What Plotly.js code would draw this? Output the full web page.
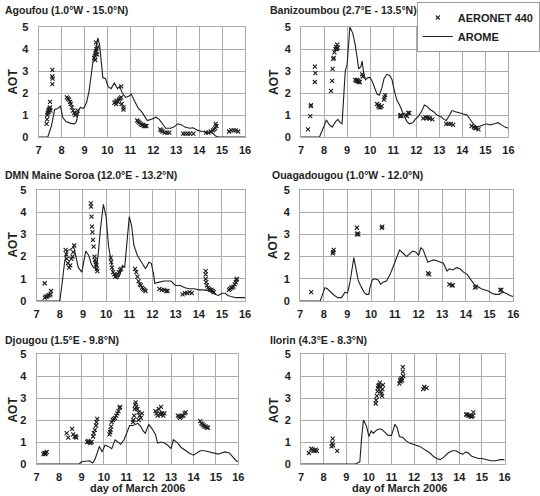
<!DOCTYPE html>
<html>
<head>
<meta charset="utf-8">
<script src="https://cdn.plot.ly/plotly-3.0.1.min.js"></script>
<style>
  html, body { margin: 0; padding: 0; background: #fff; }
  #chart { width: 540px; height: 496px; }
</style>
</head>
<body>
<div id="chart"></div>
<script>
// AOT during the March 2006 dust event: AERONET 440 nm retrievals vs AROME model

// ---- Agoufou ----
const aromeDayAgoufou = [7, 7.4, 7.56, 7.7, 7.84, 7.95, 8.05, 8.19, 8.4, 8.57, 8.65, 8.75, 8.82, 8.93, 8.99, 9.1, 9.2, 9.31, 9.38, 9.45, 9.52, 9.58, 9.66, 9.73, 9.8, 9.92, 10.02, 10.16, 10.3, 10.44, 10.53, 10.65, 10.79, 10.93, 11.04, 11.2, 11.35, 11.49, 11.63, 11.74, 11.9, 12.12, 12.26, 12.4, 12.54, 12.75, 12.89, 13.07, 13.24, 13.38, 13.59, 13.73, 13.94, 14.15, 14.36, 14.57, 14.71, 14.85, 15.2, 15.6, 16];
const aromeAotAgoufou = [0, 0, 0.5, 1.25, 1.3, 1.4, 0.9, 0.7, 0.62, 0.6, 0.7, 1.2, 1.35, 1.3, 1.35, 1.6, 2.1, 3.0, 3.5, 3.8, 4.3, 4.5, 4.2, 3.5, 2.7, 2.65, 2.3, 2.2, 2.45, 2.2, 2.3, 2.0, 1.8, 1.85, 1.95, 1.6, 1.3, 1.15, 0.9, 0.75, 0.8, 0.9, 0.8, 0.6, 0.4, 0.4, 0.45, 0.6, 0.55, 0.45, 0.4, 0.42, 0.3, 0.25, 0.2, 0.2, 0.05, 0, 0, 0, 0];
const aeronetDayAgoufou = [7.35, 7.37, 7.38, 7.4, 7.42, 7.44, 7.46, 7.48, 7.5, 7.52, 7.5, 7.6, 7.6, 7.61, 7.6, 8.23, 8.28, 8.33, 8.37, 8.4, 8.45, 8.5, 8.55, 8.6, 8.65, 8.7, 9.42, 9.45, 9.48, 9.5, 9.52, 9.55, 9.57, 9.5, 9.47, 10.3, 10.35, 10.4, 10.45, 10.5, 10.55, 10.6, 10.62, 10.7, 10.7, 10.6, 10.38, 11.3, 11.35, 11.4, 11.45, 11.5, 11.55, 11.6, 11.65, 11.7, 12.3, 12.35, 12.4, 12.5, 12.6, 12.7, 13.3, 13.4, 13.5, 13.6, 13.75, 14.3, 14.4, 14.5, 14.6, 14.65, 14.7, 14.75, 14.72, 15.3, 15.4, 15.5, 15.6, 15.7];
const aeronetAotAgoufou = [0.6, 0.8, 1.0, 1.1, 1.2, 1.15, 1.25, 1.3, 1.35, 1.2, 1.6, 3.05, 2.75, 2.65, 2.4, 1.8, 1.75, 1.7, 1.6, 1.5, 1.35, 1.2, 1.1, 1.0, 1.05, 1.2, 3.6, 3.7, 3.8, 3.9, 4.0, 3.75, 4.1, 4.3, 3.5, 1.55, 1.6, 1.65, 1.6, 1.7, 1.75, 1.8, 1.5, 1.35, 1.25, 2.3, 1.5, 0.75, 0.7, 0.65, 0.6, 0.55, 0.55, 0.5, 0.5, 0.5, 0.35, 0.3, 0.25, 0.2, 0.2, 0.2, 0.15, 0.15, 0.15, 0.15, 0.15, 0.2, 0.2, 0.25, 0.3, 0.35, 0.4, 0.5, 0.6, 0.25, 0.3, 0.3, 0.3, 0.25];

// ---- Banizoumbou ----
const aromeDayBanizoumbou = [7, 7.8, 8.0, 8.1, 8.2, 8.35, 8.5, 8.6, 8.7, 8.78, 8.85, 8.92, 9.0, 9.05, 9.12, 9.25, 9.35, 9.45, 9.5, 9.6, 9.65, 9.72, 9.8, 9.9, 10.0, 10.1, 10.2, 10.3, 10.4, 10.5, 10.6, 10.72, 10.85, 10.95, 11.05, 11.15, 11.3, 11.4, 11.5, 11.6, 11.7, 11.85, 11.95, 12.1, 12.25, 12.35, 12.45, 12.6, 12.75, 12.9, 13.0, 13.1, 13.2, 13.3, 13.45, 13.55, 13.7, 13.85, 14.0, 14.2, 14.3, 14.4, 14.55, 14.65, 14.75, 14.9, 15.05, 15.2, 15.4, 15.55, 15.7, 15.85, 16];
const aromeAotBanizoumbou = [0, 0, 0.5, 0.78, 0.6, 0.45, 0.7, 0.8, 0.65, 0.6, 1.8, 3.0, 3.3, 3.9, 5.0, 4.7, 4.2, 3.5, 3.1, 3.2, 3.45, 2.9, 2.6, 2.7, 2.7, 2.5, 2.25, 1.95, 1.9, 2.2, 2.65, 2.85, 2.8, 2.6, 2.1, 1.7, 1.4, 1.1, 0.9, 0.7, 0.6, 0.65, 0.8, 0.95, 1.2, 1.45, 1.4, 1.25, 1.15, 1.0, 0.95, 0.9, 0.8, 0.75, 1.0, 1.2, 1.15, 1.1, 1.05, 1.0, 0.85, 0.7, 0.5, 0.45, 0.5, 0.55, 0.6, 0.55, 0.6, 0.65, 0.55, 0.45, 0.4];
const aeronetDayBanizoumbou = [7.3, 7.4, 7.42, 7.43, 7.6, 7.62, 7.6, 8.3, 8.35, 8.37, 8.4, 8.42, 8.45, 8.5, 8.52, 8.55, 8.57, 8.6, 9.35, 9.4, 9.45, 9.5, 9.55, 9.42, 9.48, 9.65, 9.68, 10.3, 10.35, 10.4, 10.45, 10.5, 10.38, 10.6, 10.62, 10.65, 11.3, 11.32, 11.35, 11.55, 11.6, 11.65, 11.7, 12.3, 12.4, 12.5, 12.6, 12.7, 12.45, 12.55, 13.3, 13.4, 13.5, 13.6, 14.4, 14.5, 14.6, 14.7, 14.55];
const aeronetAotBanizoumbou = [0.35, 0.95, 1.4, 1.45, 3.2, 2.9, 2.5, 2.1, 2.55, 3.1, 3.55, 3.6, 3.85, 4.0, 4.1, 4.0, 4.2, 4.05, 2.6, 2.55, 2.55, 2.5, 2.5, 2.6, 2.55, 2.85, 2.75, 1.5, 1.4, 1.35, 1.35, 1.4, 1.45, 1.7, 1.8, 1.9, 0.95, 1.0, 0.95, 1.0, 0.95, 1.1, 1.1, 0.85, 0.9, 0.9, 0.85, 0.8, 0.85, 0.85, 0.6, 0.6, 0.6, 0.55, 0.5, 0.45, 0.4, 0.35, 0.4];

// ---- DMN Maine Soroa ----
const aromeDayMaineSoroa = [7, 8.0, 8.1, 8.2, 8.3, 8.4, 8.5, 8.6, 8.7, 8.8, 8.95, 9.05, 9.12, 9.25, 9.35, 9.45, 9.55, 9.65, 9.75, 9.88, 10.0, 10.1, 10.2, 10.3, 10.4, 10.5, 10.6, 10.7, 10.8, 10.9, 11.0, 11.1, 11.2, 11.35, 11.5, 11.6, 11.7, 11.85, 11.95, 12.05, 12.1, 12.3, 12.5, 12.8, 12.9, 13.0, 13.2, 13.4, 13.6, 13.8, 14.0, 14.2, 14.5, 14.7, 14.85, 15.0, 15.15, 15.25, 15.4, 15.6, 15.8, 16];
const aromeAotMaineSoroa = [0, 0, 0.8, 1.7, 2.25, 2.3, 2.35, 2.45, 2.0, 1.5, 1.3, 1.8, 2.25, 2.05, 1.7, 1.5, 1.45, 2.0, 3.2, 4.35, 3.8, 2.5, 1.8, 1.3, 1.05, 1.0, 1.2, 1.6, 1.5, 2.6, 3.8, 3.4, 2.5, 2.05, 1.8, 1.6, 1.45, 1.75, 1.7, 1.2, 0.8, 0.85, 0.9, 0.9, 0.8, 0.7, 0.7, 0.6, 0.55, 0.55, 0.5, 0.5, 0.45, 0.3, 0.25, 0.35, 0.35, 0.25, 0.2, 0.15, 0.15, 0.15];
const aeronetDayMaineSoroa = [7.35, 7.35, 7.4, 7.45, 7.5, 7.55, 7.6, 7.62, 8.25, 8.28, 8.3, 8.35, 8.4, 8.45, 8.5, 8.55, 8.58, 8.62, 9.34, 9.35, 9.37, 9.39, 9.41, 9.43, 9.46, 9.5, 9.52, 9.55, 9.58, 9.6, 9.62, 9.56, 10.2, 10.22, 10.25, 10.3, 10.35, 10.4, 10.45, 10.5, 10.55, 10.6, 10.65, 11.25, 11.3, 11.35, 11.4, 11.45, 11.5, 11.55, 11.6, 11.65, 11.7, 12.3, 12.4, 12.5, 12.6, 12.65, 13.3, 13.4, 13.5, 13.6, 13.7, 14.3, 14.3, 14.3, 14.32, 14.35, 14.4, 14.45, 14.5, 14.55, 14.6, 14.65, 15.3, 15.35, 15.4, 15.45, 15.5, 15.55, 15.6, 15.62, 15.65];
const aeronetAotMaineSoroa = [0.8, 0.15, 0.2, 0.2, 0.25, 0.25, 0.3, 0.45, 2.3, 2.1, 1.9, 1.7, 1.5, 1.6, 1.9, 2.0, 2.2, 2.5, 4.4, 4.25, 3.8, 3.35, 3.1, 2.75, 2.45, 2.0, 1.85, 1.75, 1.6, 1.45, 1.35, 1.65, 1.95, 1.75, 1.5, 1.3, 1.2, 1.1, 1.15, 1.2, 1.3, 1.4, 1.45, 1.45, 1.3, 1.1, 0.9, 0.75, 0.7, 0.6, 0.55, 0.5, 0.45, 0.55, 0.5, 0.5, 0.45, 0.45, 0.3, 0.35, 0.35, 0.4, 0.35, 1.35, 1.2, 1.0, 0.85, 0.7, 0.6, 0.55, 0.5, 0.5, 0.45, 0.4, 0.5, 0.55, 0.6, 0.6, 0.65, 0.75, 0.85, 0.95, 1.0];

// ---- Ouagadougou ----
const aromeDayOuagadougou = [7, 7.85, 7.95, 8.05, 8.15, 8.3, 8.45, 8.6, 8.75, 8.9, 9.0, 9.1, 9.2, 9.27, 9.35, 9.45, 9.55, 9.7, 9.8, 9.9, 9.95, 10.05, 10.15, 10.3, 10.4, 10.5, 10.65, 10.8, 10.95, 11.1, 11.2, 11.35, 11.5, 11.6, 11.75, 11.9, 12.0, 12.1, 12.2, 12.3, 12.4, 12.5, 12.65, 12.8, 12.95, 13.05, 13.2, 13.3, 13.45, 13.6, 13.75, 13.9, 14.05, 14.2, 14.35, 14.5, 14.65, 14.8, 14.95, 15.1, 15.25, 15.4, 15.55, 15.7, 15.85, 16];
const aromeAotOuagadougou = [0, 0, 0.3, 0.6, 0.55, 0.4, 0.25, 0.15, 0.15, 0.4, 0.35, 0.8, 1.5, 1.95, 1.5, 0.95, 0.7, 0.4, 0.3, 0.3, 0.6, 0.95, 1.0, 0.95, 0.75, 0.85, 0.9, 1.2, 1.6, 2.05, 2.3, 2.15, 2.0, 2.1, 2.25, 2.2, 2.05, 2.4, 2.3, 2.0, 1.75, 1.8, 1.85, 1.8, 1.75, 1.7, 1.35, 1.45, 1.4, 1.5, 1.45, 1.3, 1.2, 1.0, 0.75, 0.65, 0.55, 0.5, 0.45, 0.35, 0.3, 0.3, 0.4, 0.35, 0.25, 0.2];
const aeronetDayOuagadougou = [7.47, 8.38, 8.4, 8.42, 9.4, 9.4, 9.43, 9.46, 10.45, 10.47, 12.4, 12.45, 13.3, 13.4, 13.45, 14.38, 14.42, 15.45, 15.5];
const aeronetAotOuagadougou = [0.4, 2.15, 2.2, 2.3, 3.3, 3.0, 3.05, 3.0, 3.3, 3.35, 1.25, 1.2, 0.75, 0.7, 0.7, 0.6, 0.65, 0.5, 0.5];

// ---- Djougou ----
const aromeDayDjougou = [7, 8.9, 9.0, 9.2, 9.35, 9.5, 9.6, 9.7, 9.8, 9.92, 10.05, 10.2, 10.35, 10.5, 10.65, 10.75, 10.9, 11.05, 11.15, 11.3, 11.45, 11.52, 11.65, 11.75, 11.85, 11.95, 12.0, 12.15, 12.3, 12.4, 12.55, 12.7, 12.85, 13.0, 13.1, 13.3, 13.45, 13.6, 13.8, 14.0, 14.15, 14.3, 14.5, 14.7, 14.9, 15.1, 15.25, 15.4, 15.6, 15.75, 15.9, 16];
const aromeAotDjougou = [0, 0, 0.1, 0.12, 0.15, 0.05, 0.2, 0.5, 0.8, 0.55, 0.85, 0.8, 0.7, 1.1, 1.0, 0.9, 1.1, 1.5, 1.75, 1.75, 1.8, 1.85, 1.7, 1.5, 1.4, 1.65, 1.8, 1.6, 1.35, 0.95, 1.0, 0.95, 0.85, 0.7, 1.1, 0.95, 0.75, 0.65, 0.5, 0.4, 0.5, 0.6, 0.6, 0.55, 0.5, 0.45, 0.5, 0.55, 0.5, 0.3, 0.15, 0.1];
const aeronetDayDjougou = [7.3, 7.35, 7.4, 7.45, 7.38, 8.34, 8.41, 8.58, 8.63, 8.7, 8.74, 8.77, 9.26, 9.3, 9.35, 9.4, 9.45, 9.52, 9.55, 9.6, 9.65, 9.67, 9.7, 10.25, 10.28, 10.3, 10.32, 10.35, 10.4, 10.45, 10.5, 10.55, 10.6, 10.65, 10.7, 10.72, 11.3, 11.32, 11.35, 11.38, 11.4, 11.42, 11.45, 11.5, 11.55, 11.6, 11.65, 11.7, 11.55, 12.3, 12.35, 12.4, 12.45, 12.5, 12.55, 12.6, 12.65, 12.7, 12.55, 13.3, 13.35, 13.4, 13.45, 13.5, 13.55, 13.6, 13.65, 14.3, 14.35, 14.4, 14.45, 14.5, 14.55, 14.6, 14.65];
const aeronetAotDjougou = [0.45, 0.5, 0.5, 0.55, 0.45, 1.4, 1.2, 1.6, 1.35, 1.25, 1.25, 1.2, 1.0, 1.05, 1.0, 0.95, 1.0, 1.25, 1.4, 1.55, 1.75, 1.9, 2.05, 1.35, 1.45, 1.55, 1.7, 1.9, 2.0, 2.05, 2.1, 2.2, 2.3, 2.4, 2.55, 2.6, 1.9, 2.0, 2.2, 2.5, 2.7, 2.8, 2.6, 2.5, 2.35, 2.2, 2.1, 2.3, 2.0, 2.4, 2.3, 2.2, 2.5, 2.3, 2.25, 2.3, 2.2, 2.3, 2.6, 2.2, 2.15, 2.1, 2.15, 2.2, 2.2, 2.3, 2.35, 1.95, 1.85, 1.8, 1.75, 1.7, 1.7, 1.65, 1.65];

// ---- Ilorin ----
const aromeDayIlorin = [7, 9.4, 9.5, 9.6, 9.68, 9.76, 9.9, 10.0, 10.1, 10.2, 10.35, 10.5, 10.6, 10.75, 10.85, 11.0, 11.1, 11.15, 11.25, 11.35, 11.5, 11.65, 11.8, 11.95, 12.1, 12.25, 12.4, 12.55, 12.7, 12.85, 13.0, 13.15, 13.3, 13.5, 13.7, 13.85, 14.0, 14.15, 14.3, 14.4, 14.55, 14.7, 14.85, 15.0, 15.2, 15.4, 15.6, 15.8, 16];
const aromeAotIlorin = [0, 0, 0.05, 0.1, 1.2, 2.0, 1.7, 1.25, 1.5, 1.4, 1.55, 1.6, 1.55, 1.4, 1.3, 1.3, 1.6, 1.8, 1.65, 1.25, 1.2, 1.05, 0.95, 0.9, 0.85, 0.8, 0.7, 0.6, 0.5, 0.35, 0.25, 0.2, 0.3, 0.5, 0.6, 0.6, 0.5, 0.45, 0.55, 0.5, 0.35, 0.3, 0.25, 0.25, 0.2, 0.15, 0.15, 0.2, 0.2];
const aeronetDayIlorin = [7.35, 7.45, 7.5, 7.55, 7.6, 7.65, 7.7, 8.4, 8.38, 8.35, 8.42, 8.6, 10.3, 10.32, 10.35, 10.38, 10.4, 10.42, 10.45, 10.48, 10.5, 10.52, 10.55, 10.58, 10.6, 10.62, 11.35, 11.38, 11.4, 11.42, 11.45, 11.47, 11.5, 11.5, 11.52, 12.4, 12.45, 12.55, 14.3, 14.35, 14.4, 14.45, 14.5, 14.55, 14.6, 14.62];
const aeronetAotIlorin = [0.5, 0.7, 0.65, 0.6, 0.6, 0.65, 0.6, 1.15, 0.95, 0.8, 0.85, 0.6, 2.75, 2.9, 3.1, 3.3, 3.45, 3.55, 3.6, 3.7, 3.5, 3.3, 3.2, 3.1, 3.4, 3.6, 3.65, 3.8, 3.75, 3.85, 3.9, 3.8, 4.2, 4.4, 4.0, 3.4, 3.5, 3.45, 2.25, 2.25, 2.2, 2.2, 2.15, 2.15, 2.2, 2.35];

const stationNames = [
  'Agoufou (1.0°W - 15.0°N)',
  'Banizoumbou (2.7°E - 13.5°N)',
  'DMN Maine Soroa (12.0°E - 13.2°N)',
  'Ouagadougou (1.0°W - 12.0°N)',
  'Djougou (1.5°E - 9.8°N)',
  'Ilorin (4.3°E - 8.3°N)'
];
const tickDays = [7, 8, 9, 10, 11, 12, 13, 14, 15, 16];
const tickAot = [0, 1, 2, 3, 4, 5];

const stations = [
  { model: [aromeDayAgoufou, aromeAotAgoufou], obs: [aeronetDayAgoufou, aeronetAotAgoufou] },
  { model: [aromeDayBanizoumbou, aromeAotBanizoumbou], obs: [aeronetDayBanizoumbou, aeronetAotBanizoumbou] },
  { model: [aromeDayMaineSoroa, aromeAotMaineSoroa], obs: [aeronetDayMaineSoroa, aeronetAotMaineSoroa] },
  { model: [aromeDayOuagadougou, aromeAotOuagadougou], obs: [aeronetDayOuagadougou, aeronetAotOuagadougou] },
  { model: [aromeDayDjougou, aromeAotDjougou], obs: [aeronetDayDjougou, aeronetAotDjougou] },
  { model: [aromeDayIlorin, aromeAotIlorin], obs: [aeronetDayIlorin, aeronetAotIlorin] }
];

// Figure geometry in pixels
const W = 540, H = 496;
const boxes = [  // [left, right, top, bottom]
  [40, 254, 27, 137],
  [312, 527, 27, 137],
  [38, 254, 190, 301],
  [311, 532, 190, 301],
  [38, 247, 354, 464],
  [312, 523, 354, 464]
];
const titlePos = [[3, 10], [278, 10], [3, 175], [280, 175], [3, 340], [278, 340]];
const aotPos = [[13, 82], [284, 82], [13, 245], [283, 246], [13, 410], [284, 410]];
const px = v => v / W;
const py = v => 1 - v / H;

const ink = '#1e1e1e';
const gridGray = '#ababab';
const fontFamily = '"Liberation Sans", Arial, sans-serif';

const traces = [];
const layout = {
  width: W, height: H,
  margin: { l: 0, r: 0, t: 0, b: 0 },
  paper_bgcolor: '#fff', plot_bgcolor: '#fff',
  font: { family: fontFamily, color: ink, size: 11 },
  showlegend: true,
  legend: {
    x: px(432), y: py(2), xanchor: 'left', yanchor: 'top',
    bgcolor: '#fff', bordercolor: '#999', borderwidth: 1,
    font: { family: fontFamily, size: 11, weight: 'bold', color: ink },
    tracegroupgap: 0, itemwidth: 30
  },
  annotations: [],
  hovermode: false
};

stations.forEach((st, i) => {
  const n = i + 1;
  const xa = 'x' + (n === 1 ? '' : n);
  const ya = 'y' + (n === 1 ? '' : n);
  traces.push({
    type: 'scatter', mode: 'markers', name: 'AERONET 440',
    x: st.obs[0], y: st.obs[1], xaxis: xa, yaxis: ya,
    marker: { symbol: 'x-thin', size: 4, color: ink, line: { width: 1.1, color: ink } },
    showlegend: i === 0, legendrank: 1
  });
  traces.push({
    type: 'scatter', mode: 'lines', name: 'AROME',
    x: st.model[0], y: st.model[1], xaxis: xa, yaxis: ya,
    line: { color: ink, width: 1.1 },
    showlegend: i === 0, legendrank: 2
  });

  const b = boxes[i];
  const axCommon = {
    showgrid: true, gridcolor: gridGray, gridwidth: 1,
    showline: true, linecolor: gridGray, linewidth: 1, mirror: true,
    zeroline: false, ticks: '',
    tickfont: { family: fontFamily, size: 11, weight: 'bold', color: ink },
    fixedrange: true
  };
  layout['xaxis' + (n === 1 ? '' : n)] = Object.assign({}, axCommon, {
    domain: [px(b[0]), px(b[1])], anchor: ya,
    range: [7, 16], tickmode: 'array', tickvals: tickDays,
    ticktext: tickDays.map(String), ticklabelstandoff: 3
  });
  layout['yaxis' + (n === 1 ? '' : n)] = Object.assign({}, axCommon, {
    domain: [py(b[3]), py(b[2])], anchor: xa,
    range: [0, 5], tickmode: 'array', tickvals: tickAot,
    ticktext: tickAot.map(String), ticklabelstandoff: 7
  });

  layout.annotations.push({
    xref: 'paper', yref: 'paper', x: px(titlePos[i][0]), y: py(titlePos[i][1]),
    xanchor: 'left', yanchor: 'middle', showarrow: false,
    text: stationNames[i],
    font: { family: fontFamily, size: 10.5, weight: 'bold', color: ink }
  });
  layout.annotations.push({
    xref: 'paper', yref: 'paper', x: px(aotPos[i][0]), y: py(aotPos[i][1]),
    xanchor: 'center', yanchor: 'middle', showarrow: false, textangle: -90,
    text: 'AOT',
    font: { family: fontFamily, size: 12, weight: 'bold', color: ink }
  });
});

// x-axis caption under the bottom row
[143, 414].forEach(cx => {
  layout.annotations.push({
    xref: 'paper', yref: 'paper', x: px(cx), y: py(496),
    xanchor: 'center', yanchor: 'bottom', showarrow: false,
    text: 'day of March 2006',
    font: { family: fontFamily, size: 11, weight: 'bold', color: ink }
  });
});

Plotly.newPlot('chart', traces, layout, { staticPlot: true, displayModeBar: false });
</script>
</body>
</html>
